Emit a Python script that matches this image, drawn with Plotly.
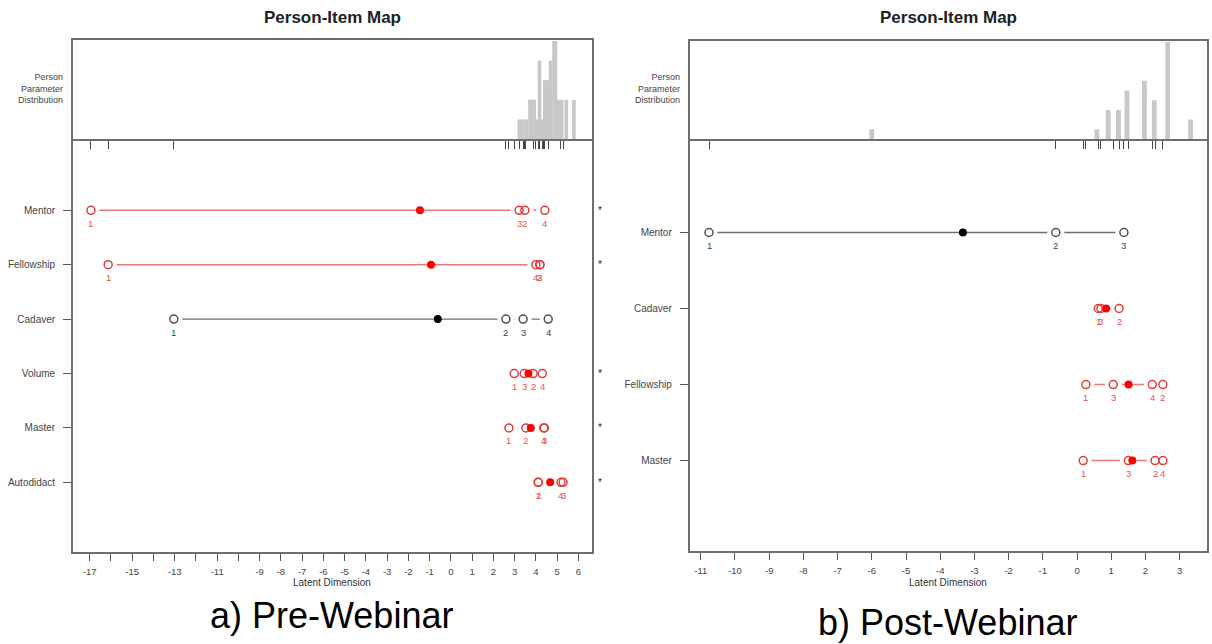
import plotly.graph_objects as go

W, H = 1212, 644

# ---------------- data ----------------
pre_items = ["Mentor", "Fellowship", "Cadaver", "Volume", "Master", "Autodidact"]
pre_thresholds = [
    [-16.94, 3.48, 3.21, 4.42],
    [-16.13, 4.19, 4.19, 4.00],
    [-13.04, 2.59, 3.40, 4.58],
    [2.98, 3.87, 3.45, 4.30],
    [2.73, 3.53, 4.40, 4.37],
    [4.11, 4.11, 5.28, 5.18],
]
pre_person_theta = [3.22, 3.39, 3.55, 3.72, 3.82, 3.92, 4.05, 4.17, 4.28,
                    4.42, 4.53, 4.69, 4.85, 4.92, 5.05, 5.21, 5.43, 5.79]
pre_person_count = [1, 1, 1, 2, 2, 2, 1, 4, 1, 3, 3, 4, 5, 5, 2, 2, 2, 2]
pre_ticks = list(range(-17, 7))
pre_tick_labels = ["" if v in (-16, -14, -12, -10) else str(v) for v in pre_ticks]

post_items = ["Mentor", "Cadaver", "Fellowship", "Master"]
post_thresholds = [
    [-10.76, -0.62, 1.37],
    [0.62, 1.23, 0.70],
    [0.26, 2.51, 1.06, 2.20],
    [0.18, 2.28, 1.50, 2.51],
]
post_person_theta = [-6.0, 0.58, 0.91, 1.21, 1.46, 1.97, 2.26, 2.65, 3.32]
post_person_count = [1, 1, 3, 3, 5, 6, 4, 10, 2]
post_ticks = list(range(-11, 4))
post_tick_labels = [str(v) for v in post_ticks]

# ---------------- styling ----------------
FONT = "Liberation Sans, Arial, Helvetica, sans-serif"
HIST = "#c8c8c8"
BOX = "#6e6e6e"
RED_LINE = "rgb(232,120,120)"
RED_PT = "rgb(225,60,60)"
RED_TXT = "rgb(228,85,85)"
BLK_LINE = "#707070"
BLK_PT = "#505050"
BLK_TXT = "#444444"


def px_x(p):
    return p / W


def px_y(p):
    return 1 - p / H


def dom_y(top, bottom):
    return [1 - bottom / H, 1 - top / H]


fig = go.Figure()
annotations = []


def add_panel(items, thresholds, theta, counts, bar_w, hx, hy, mx, my, star_x=None):
    n = len(items)
    rows = list(range(n, 0, -1))
    fig.add_trace(go.Bar(x=theta, y=counts, width=bar_w,
                         marker=dict(color=HIST, line=dict(width=0)),
                         xaxis=hx, yaxis=hy, hoverinfo="skip"))
    for item, thr, row in zip(items, thresholds, rows):
        disordered = any(thr[i + 1] < thr[i] for i in range(len(thr) - 1))
        lc, pc, tc = (RED_LINE, RED_PT, RED_TXT) if disordered else (BLK_LINE, BLK_PT, BLK_TXT)
        fc = "red" if disordered else "black"
        loc = sum(thr) / len(thr)
        fig.add_trace(go.Scatter(x=[min(thr), max(thr)], y=[row, row], mode="lines",
                                 line=dict(color=lc, width=1.4), xaxis=mx, yaxis=my,
                                 hoverinfo="skip"))
        fig.add_trace(go.Scatter(x=thr, y=[row] * len(thr), mode="markers",
                                 marker=dict(symbol="circle", size=17, color="white",
                                             line=dict(width=0)),
                                 xaxis=mx, yaxis=my, hoverinfo="skip"))
        fig.add_trace(go.Scatter(x=thr, y=[row] * len(thr), mode="markers",
                                 marker=dict(symbol="circle-open", size=8, color=pc,
                                             line=dict(width=1.5, color=pc)),
                                 xaxis=mx, yaxis=my, hoverinfo="skip"))
        fig.add_trace(go.Scatter(x=[loc], y=[row], mode="markers",
                                 marker=dict(symbol="circle", size=8, color=fc),
                                 xaxis=mx, yaxis=my, hoverinfo="skip"))
        for k, v in enumerate(thr):
            annotations.append(dict(x=v, y=row, xref=mx, yref=my, text=str(k + 1),
                                    showarrow=False, yshift=-13,
                                    xanchor="center", yanchor="middle",
                                    font=dict(family=FONT, size=9.5, color=tc)))
        if disordered and star_x is not None:
            annotations.append(dict(x=star_x, y=row, xref="paper", yref=my,
                                    text="*", showarrow=False,
                                    xanchor="center", yanchor="middle",
                                    font=dict(family=FONT, size=10, color="#222")))


add_panel(pre_items, pre_thresholds, pre_person_theta, pre_person_count, 0.17,
          "x", "y", "x2", "y2", star_x=px_x(600))
add_panel(post_items, post_thresholds, post_person_theta, post_person_count, 0.14,
          "x3", "y3", "x4", "y4")

# panel geometry
A_dom = [px_x(72.9), px_x(592)]
A_rng = [-17.79, 6.64]
B_dom = [px_x(689.5), px_x(1207)]
B_rng = [-11.33, 3.80]

base = dict(showline=True, linecolor=BOX, linewidth=1.5,
            showgrid=False, zeroline=False, automargin=False)

pre_all_thr = [v for t in pre_thresholds for v in t]
post_all_thr = [v for t in post_thresholds for v in t]


def hist_x(dom, rng, tv, anchor):
    return dict(domain=dom, range=rng, anchor=anchor, tickvals=tv, ticks="outside",
                ticklen=8, tickwidth=1, tickcolor="#444", showticklabels=False,
                mirror=True, **base)


def hist_y(dom, rng, anchor):
    return dict(domain=dom, range=rng, anchor=anchor, showticklabels=False, ticks="",
                mirror=True, **base)


def main_x(dom, rng, tv, tt, anchor):
    return dict(domain=dom, range=rng, anchor=anchor, tickvals=tv, ticktext=tt,
                ticks="outside", ticklen=7, tickwidth=1, tickcolor="#555",
                ticklabelstandoff=3, mirror=False,
                tickfont=dict(family=FONT, size=9.5, color="#444"), **base)


def main_y(dom, rng, items, anchor):
    n = len(items)
    return dict(domain=dom, range=rng, anchor=anchor, tickvals=list(range(n, 0, -1)),
                ticktext=items, ticks="outside", ticklen=8, tickwidth=1, tickcolor="#555",
                ticklabelstandoff=6, mirror=True,
                tickfont=dict(family=FONT, size=10, color="#444"), **base)


fig.update_layout(
    xaxis=hist_x(A_dom, A_rng, pre_all_thr, "y"),
    yaxis=hist_y(dom_y(40, 139), [0, 5.05], "x"),
    xaxis2=main_x(A_dom, A_rng, pre_ticks, pre_tick_labels, "y2"),
    yaxis2=main_y(dom_y(139, 552), [-0.28, 7.31], pre_items, "x2"),
    xaxis3=hist_x(B_dom, B_rng, post_all_thr, "y3"),
    yaxis3=hist_y(dom_y(41, 139), [0, 10.1], "x3"),
    xaxis4=main_x(B_dom, B_rng, post_ticks, post_tick_labels, "y4"),
    yaxis4=main_y(dom_y(139, 551), [-0.19, 5.23], post_items, "x4"),
)

# titles and text
for cx, rx in ((332, 65), (948, 682)):
    annotations.append(dict(x=px_x(cx), y=px_y(17), xref="paper", yref="paper",
                            xanchor="center", yanchor="middle",
                            text="<b>Person-Item Map</b>", showarrow=False,
                            font=dict(family=FONT, size=17, color="#222")))
    annotations.append(dict(x=px_x(rx), y=px_y(88), xref="paper", yref="paper",
                            xanchor="right", yanchor="middle", align="right",
                            text="Person<br>Parameter<br>Distribution", showarrow=False,
                            font=dict(family=FONT, size=9, color="#444")))
    annotations.append(dict(x=px_x(cx), y=px_y(582), xref="paper", yref="paper",
                            xanchor="center", yanchor="middle",
                            text="Latent Dimension", showarrow=False,
                            font=dict(family=FONT, size=10, color="#333")))

annotations.append(dict(x=px_x(331), y=px_y(615), xref="paper", yref="paper",
                        xanchor="center", yanchor="middle",
                        text="a) Pre-Webinar", showarrow=False,
                        font=dict(family=FONT, size=36, color="#000")))
annotations.append(dict(x=px_x(947), y=px_y(622), xref="paper", yref="paper",
                        xanchor="center", yanchor="middle",
                        text="b) Post-Webinar", showarrow=False,
                        font=dict(family=FONT, size=36, color="#000")))

fig.update_layout(
    width=W, height=H, autosize=False,
    margin=dict(l=0, r=0, t=0, b=0, autoexpand=False),
    paper_bgcolor="white", plot_bgcolor="white",
    showlegend=False, barmode="overlay",
    annotations=annotations,
    font=dict(family=FONT),
)

fig.write_html("out.html", config={"displayModeBar": False},
               post_script="document.body.style.margin='0';document.body.style.padding='0';")
